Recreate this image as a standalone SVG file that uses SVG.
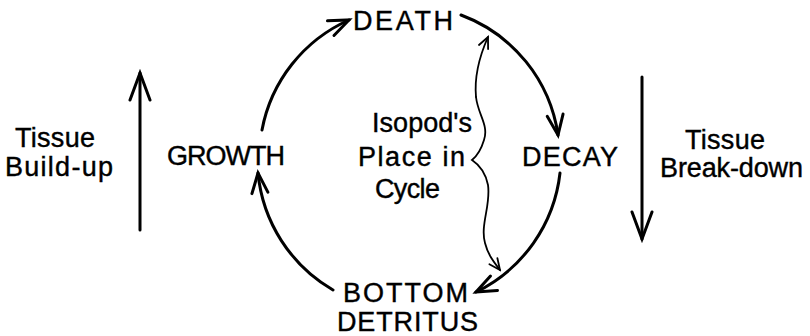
<svg xmlns="http://www.w3.org/2000/svg" width="810" height="336" viewBox="0 0 810 336">
<style>
text{font-family:"Liberation Sans",Arial,sans-serif;fill:#000;stroke:#000;stroke-width:0.4;font-size:27px}
.arc{fill:none;stroke:#000;stroke-width:3;stroke-linecap:round}
.brace{fill:none;stroke:#000;stroke-width:1.8;stroke-linecap:round}
</style>
<defs>
<marker id="vh" viewBox="-26 -13 30 26" refX="0" refY="0" markerWidth="30" markerHeight="26" markerUnits="userSpaceOnUse" orient="auto">
<path d="M-20,-8 L0,0 L-20,8" fill="none" stroke="#000" stroke-width="3" stroke-linecap="round"/>
</marker>
<marker id="vbig" viewBox="-30 -14 34 28" refX="0" refY="0" markerWidth="34" markerHeight="28" markerUnits="userSpaceOnUse" orient="auto">
<path d="M-27,-10 L0,0 L-27,10" fill="none" stroke="#000" stroke-width="3" stroke-linecap="round"/>
</marker>
<marker id="vs" viewBox="-14 -8 16 16" refX="0" refY="0" markerWidth="16" markerHeight="16" markerUnits="userSpaceOnUse" orient="auto">
<path d="M-11,-5 L0,0 L-11,5" fill="none" stroke="#000" stroke-width="1.8" stroke-linecap="round"/>
</marker>
</defs>
<g id="connectors">
<path class="arc" d="M262,130 A151,151 0 0 1 349,20" marker-end="url(#vh)"/>
<path class="arc" d="M461,15 A151,151 0 0 1 558,135" marker-end="url(#vh)"/>
<path class="arc" d="M560,173 A151,151 0 0 1 476,292" marker-end="url(#vh)"/>
<path class="arc" d="M333,290 A152,152 0 0 1 258,173" marker-end="url(#vh)"/>
<path class="arc" d="M140,230 L140,73" marker-end="url(#vbig)"/>
<path class="arc" d="M642,77 L642,239" marker-end="url(#vbig)"/>
<path class="brace" d="M476,97 C474,75 480,55 488,37" marker-end="url(#vs)"/>
<path class="brace" d="M476,97 C478,115 489,125 484,140 C481,150 477,156 472,160 C478,164 485,170 488,185 C491,205 480,225 485,243 C488,255 494,262 500,270" marker-end="url(#vs)"/>
</g>
<g id="death"><text x="353" y="30" font-size="29" textLength="100" lengthAdjust="spacing">DEATH</text></g>
<g id="growth"><text x="167" y="165" font-size="26" textLength="118" lengthAdjust="spacing">GROWTH</text></g>
<g id="decay"><text x="522" y="166" font-size="28" textLength="96" lengthAdjust="spacing">DECAY</text></g>
<g id="bottom-detritus">
<text x="343" y="302" font-size="28" textLength="125" lengthAdjust="spacing">BOTTOM</text>
<text x="337" y="331" font-size="28" textLength="141" lengthAdjust="spacing">DETRITUS</text>
</g>
<g id="isopod">
<text x="372" y="132" textLength="100" lengthAdjust="spacing">Isopod's</text>
<text x="358" y="166" textLength="107" lengthAdjust="spacing">Place in</text>
<text x="375" y="198" font-size="26" textLength="65" lengthAdjust="spacing">Cycle</text>
</g>
<g id="buildup">
<text x="15" y="147" textLength="80" lengthAdjust="spacing">Tissue</text>
<text x="5" y="176" textLength="108" lengthAdjust="spacing">Build-up</text>
</g>
<g id="breakdown">
<text x="685" y="149" textLength="80" lengthAdjust="spacing">Tissue</text>
<text x="660" y="177" textLength="143" lengthAdjust="spacing">Break-down</text>
</g>
</svg>
